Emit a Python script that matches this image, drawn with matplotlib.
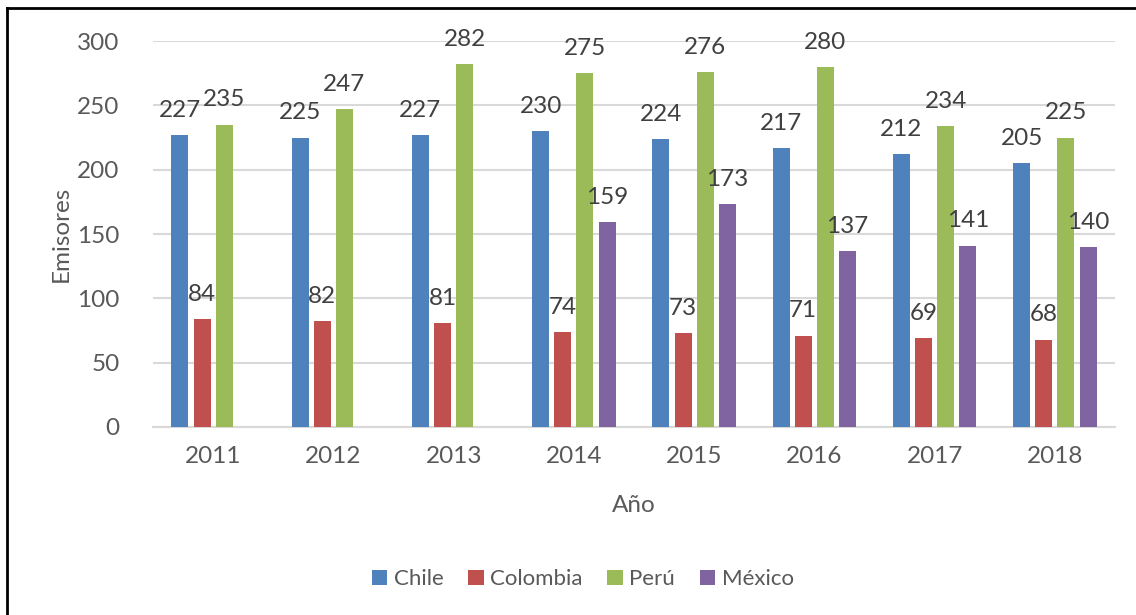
import numpy as np
import matplotlib
matplotlib.use('Agg')
import matplotlib.pyplot as plt
from matplotlib.lines import Line2D

# datos
years = ['2011', '2012', '2013', '2014', '2015', '2016', '2017', '2018']
chile = [227, 225, 227, 230, 224, 217, 212, 205]
colombia = [84, 82, 81, 74, 73, 71, 69, 68]
peru = [235, 247, 282, 275, 276, 280, 234, 225]
mexico = [np.nan, np.nan, np.nan, 159, 173, 137, 141, 140]

series = [('Chile', chile, '#4F81BD'),
          ('Colombia', colombia, '#C0504D'),
          ('Perú', peru, '#9BBB59'),
          ('México', mexico, '#8064A2')]

plt.rcParams['font.family'] = ['Lato', 'DejaVu Sans']
grey = '#595959'

fig = plt.figure(figsize=(11.36, 6.15), dpi=100)
ax = fig.add_axes([0.1347, 0.3057, 0.8468, 0.6276])

x = np.arange(len(years))
w = 0.142
step = 0.184
for k, (name, vals, col) in enumerate(series):
    pos = x + (k - 1.5) * step
    ax.bar(pos, vals, width=w, color=col, label=name, zorder=3)
    for p, v in zip(pos, vals):
        if not np.isnan(v):
            ax.text(p, v + 11, str(v), ha='center', va='bottom', fontsize=17.5,
                    color='#404040', clip_on=False, zorder=4)

ax.set_xlim(-0.5, len(years) - 0.5)
ax.set_ylim(0, 300)
ax.set_yticks(range(0, 301, 50))
ax.set_xticks(x)
ax.set_xticklabels(years)
ax.yaxis.grid(True, color='#d9d9d9', linewidth=1.5, zorder=0)
ax.tick_params(axis='both', length=0, labelsize=17.5, labelcolor=grey)
ax.tick_params(axis='x', pad=14)
ax.tick_params(axis='y', pad=24)
for s in ['top', 'right', 'left']:
    ax.spines[s].set_visible(False)
ax.spines['bottom'].set_color('#d9d9d9')
ax.spines['bottom'].set_linewidth(1.5)

ax.set_ylabel('Emisores', fontsize=17.5, color=grey, labelpad=4)
ax.set_xlabel('Año', fontsize=17.5, color=grey, labelpad=20)

fig.legend(loc='center', bbox_to_anchor=(0.513, 0.058), ncol=4, frameon=False,
           fontsize=16, labelcolor=grey, handlelength=0.7, handleheight=0.7,
           handletextpad=0.3, columnspacing=1.1)

# marco
fig.add_artist(Line2D([0.0062, 0.0062], [0, 0.987], color='black', linewidth=2))
fig.add_artist(Line2D([0.0062, 1], [0.987, 0.987], color='black', linewidth=2))

fig.savefig('out.png', dpi=100)
